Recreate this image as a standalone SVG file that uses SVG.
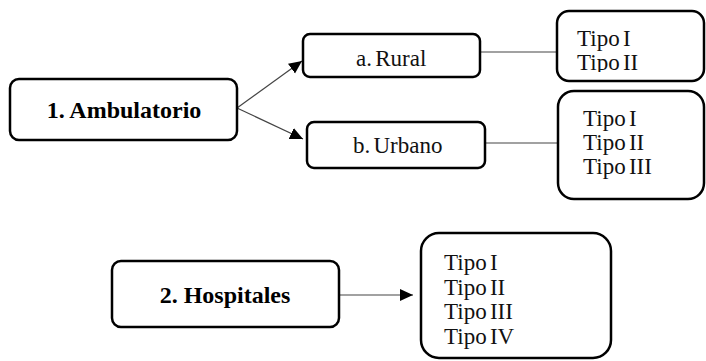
<svg xmlns="http://www.w3.org/2000/svg" width="706" height="361" viewBox="0 0 706 361">
<defs>
<marker id="arr" markerUnits="userSpaceOnUse" markerWidth="14" markerHeight="14" viewBox="0 0 14 14" refX="13" refY="7" orient="auto">
<path d="M0,1 L13,7 L0,13 Z" fill="#000"/>
</marker>
<clipPath id="clip1"><rect x="558" y="12" width="146" height="60"/></clipPath>
</defs>
<style>
.box{fill:#fff;stroke:#000;stroke-width:2.5}
.conn{stroke:#444;stroke-width:1.2;fill:none}
.bold{font-family:"Liberation Serif",serif;font-weight:bold;font-size:24px;fill:#000}
.reg{font-family:"Liberation Serif",serif;font-size:23px;fill:#111;word-spacing:-2.5px}
</style>
<rect width="706" height="361" fill="#fff"/>
<g id="connectors">
<line class="conn" x1="237" y1="108" x2="302" y2="61" marker-end="url(#arr)"/>
<line class="conn" x1="237" y1="108" x2="303" y2="139" marker-end="url(#arr)"/>
<line class="conn" x1="480" y1="52" x2="557" y2="52"/>
<line class="conn" x1="485" y1="143" x2="558" y2="143"/>
<line class="conn" x1="339" y1="295" x2="413" y2="295" marker-end="url(#arr)"/>
</g>
<g id="ambulatorio">
<rect class="box" x="10" y="79" width="227" height="61" rx="9"/>
<text class="bold" x="124" y="118" text-anchor="middle">1. Ambulatorio</text>
</g>
<g id="rural">
<rect class="box" x="303" y="34" width="177" height="43" rx="7"/>
<text class="reg" x="356" y="66">a. Rural</text>
</g>
<g id="urbano">
<rect class="box" x="307" y="122" width="178" height="46" rx="7"/>
<text class="reg" x="353" y="153">b. Urbano</text>
</g>
<g id="tipos-rural">
<rect class="box" x="557" y="11" width="147" height="70" rx="12"/>
<g clip-path="url(#clip1)">
<text class="reg" x="577" y="46">Tipo I</text>
<text class="reg" x="577" y="70">Tipo II</text>
</g>
</g>
<g id="tipos-urbano">
<rect class="box" x="558" y="91" width="146" height="108" rx="16"/>
<text class="reg" x="583" y="126">Tipo I</text>
<text class="reg" x="583" y="150">Tipo II</text>
<text class="reg" x="583" y="174">Tipo III</text>
</g>
<g id="hospitales">
<rect class="box" x="112" y="261" width="227" height="66" rx="9"/>
<text class="bold" x="225" y="303" text-anchor="middle">2. Hospitales</text>
</g>
<g id="tipos-hospitales">
<rect class="box" x="421" y="233" width="190" height="125" rx="18"/>
<text class="reg" x="444" y="270">Tipo I</text>
<text class="reg" x="444" y="295">Tipo II</text>
<text class="reg" x="444" y="319">Tipo III</text>
<text class="reg" x="444" y="344">Tipo IV</text>
</g>
</svg>
